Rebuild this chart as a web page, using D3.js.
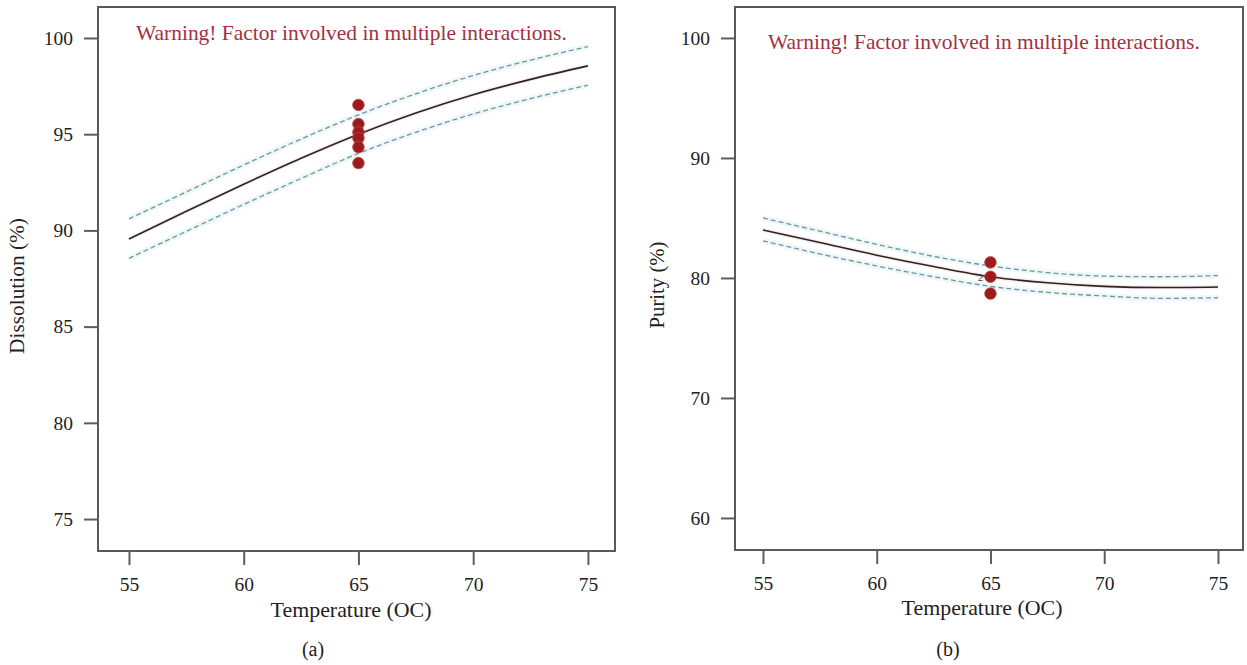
<!DOCTYPE html>
<html>
<head>
<meta charset="utf-8">
<script src="https://cdn.jsdelivr.net/npm/d3@7"></script>
<style>
  html, body { margin: 0; padding: 0; background: #fff; }
  svg { display: block; }
  text { font-family: "Liberation Serif", "DejaVu Serif", serif; }
</style>
</head>
<body>
<svg id="chart" width="1247" height="665"></svg>
<script>
// Temperature grid shared by both one-factor plots
const temperature = [55, 57.5, 60, 62.5, 65, 67.5, 70, 72.5, 75];
const xTicks = [55, 60, 65, 70, 75];

// (a) Dissolution: prediction with 95% confidence band, and design points at 65
const dissolutionFit   = [89.55, 91.0, 92.4, 93.75, 95.0, 96.1, 97.05, 97.85, 98.55];
const dissolutionUpper = [90.6, 92.0, 93.4, 94.75, 96.0, 97.1, 98.05, 98.85, 99.55];
const dissolutionLower = [88.55, 89.95, 91.35, 92.7, 94.0, 95.1, 96.05, 96.85, 97.55];
const dissolutionRuns  = [96.52, 95.53, 95.1, 94.8, 94.33, 93.5];
const dissolutionTicks = [75, 80, 85, 90, 95, 100];

// (b) Purity: prediction with 95% confidence band, and design points at 65
const purityFit   = [84.0, 82.95, 81.9, 80.95, 80.1, 79.6, 79.3, 79.2, 79.25];
const purityUpper = [85.0, 83.9, 82.8, 81.8, 81.0, 80.45, 80.15, 80.1, 80.2];
const purityLower = [83.1, 82.0, 81.0, 80.1, 79.3, 78.8, 78.5, 78.3, 78.35];
const purityRuns  = [81.3, 80.1, 78.7];
const purityTicks = [60, 70, 80, 90, 100];

const centerTemp = 65;
const warning = "Warning! Factor involved in multiple interactions.";

const svg = d3.select("#chart");

// Scale a text element's font size so it spans a given width
function fitWidth(sel, width) {
  const node = sel.node();
  const fs = parseFloat(sel.style("font-size"));
  const w = node.getComputedTextLength();
  if (w > 0) sel.style("font-size", (fs * width / w).toFixed(2) + "px");
  return sel;
}

function drawPanel(cfg) {
  const g = svg.append("g");
  const { left, right, top, bottom } = cfg.frame;

  const x = d3.scaleLinear().domain(cfg.xDomain).range([left, right]);
  const y = d3.scaleLinear().domain(cfg.yDomain).range([bottom, top]);

  // Plot frame
  g.append("rect")
    .attr("x", left).attr("y", top)
    .attr("width", right - left).attr("height", bottom - top)
    .attr("fill", "#fff").attr("stroke", "#5a5a5a").attr("stroke-width", 2);

  // Axes
  const yAxis = g.append("g")
    .attr("transform", `translate(${left},0)`)
    .call(d3.axisLeft(y).tickValues(cfg.yTicks).tickFormat(d3.format("d"))
      .tickSize(14).tickPadding(11));
  const xAxis = g.append("g")
    .attr("transform", `translate(0,${bottom})`)
    .call(d3.axisBottom(x).tickValues(xTicks).tickFormat(d3.format("d"))
      .tickSize(14).tickPadding(12));
  [yAxis, xAxis].forEach(a => {
    a.select(".domain").remove();
    a.selectAll(".tick line").attr("stroke", "#5e5e5e").attr("stroke-width", 2);
    a.selectAll(".tick text")
      .style("font-size", "19.5px").style("fill", "#222");
  });

  const line = d3.line()
    .x((d, i) => x(temperature[i]))
    .y(d => y(d))
    .curve(d3.curveMonotoneX);

  // Confidence band: faint halo under each dashed bound
  [cfg.upper, cfg.lower].forEach(series => {
    g.append("path").datum(series).attr("d", line)
      .attr("fill", "none").attr("stroke", "#e4f3f4")
      .attr("stroke-width", 6).attr("opacity", 0.6);
  });
  [cfg.upper, cfg.lower].forEach(series => {
    g.append("path").datum(series).attr("d", line)
      .attr("fill", "none").attr("stroke", "#6c979c")
      .attr("stroke-width", 1.3).attr("stroke-dasharray", "5,3");
  });

  // Predicted response
  g.append("path").datum(cfg.fit).attr("d", line)
    .attr("fill", "none").attr("stroke", "#ecdcde").attr("stroke-width", 4).attr("opacity", 0.5);
  g.append("path").datum(cfg.fit).attr("d", line)
    .attr("fill", "none").attr("stroke", "#2e2224").attr("stroke-width", 1.6);

  if (cfg.overlapLabel) {
    g.append("text")
      .attr("x", x(centerTemp) - 10).attr("y", y(cfg.fit[4]) + 4)
      .attr("text-anchor", "middle")
      .style("font-size", "11px").style("fill", "#444")
      .text(cfg.overlapLabel);
  }

  // Design points at the centre temperature
  g.selectAll("circle.run").data(cfg.runs).enter().append("circle")
    .attr("class", "run")
    .attr("cx", x(centerTemp)).attr("cy", d => y(d))
    .attr("r", 5.8)
    .attr("fill", "#9c1b1c").attr("stroke", "#b9474a").attr("stroke-width", 0.8);

  // Warning note
  const warn = g.append("text")
    .attr("x", cfg.warnX).attr("y", cfg.warnY)
    .style("font-size", "18px").style("fill", "#a3303f")
    .text(warning);
  fitWidth(warn, cfg.warnWidth);

  // Axis titles
  const xt = g.append("text")
    .attr("x", cfg.xTitleX).attr("y", cfg.xTitleY)
    .attr("text-anchor", "middle")
    .style("font-size", "18px").style("fill", "#222")
    .text("Temperature (OC)");
  fitWidth(xt, 161);

  const yt = g.append("text")
    .attr("transform", `translate(${cfg.yTitleX},${cfg.yTitleY}) rotate(-90)`)
    .attr("text-anchor", "middle")
    .style("font-size", "18px").style("fill", "#222")
    .text(cfg.yTitle);
  fitWidth(yt, cfg.yTitleWidth);

  // Panel letter
  g.append("text")
    .attr("x", cfg.tagX).attr("y", 656)
    .attr("text-anchor", "middle")
    .style("font-size", "20px").style("fill", "#222")
    .text(cfg.tag);
}

drawPanel({
  frame: { left: 98, right: 615, top: 7, bottom: 551 },
  xDomain: [53.65, 76.18],
  yDomain: [73.34, 101.61],
  yTicks: dissolutionTicks,
  fit: dissolutionFit, upper: dissolutionUpper, lower: dissolutionLower,
  runs: dissolutionRuns,
  warnX: 136, warnY: 40, warnWidth: 431,
  xTitleX: 351, xTitleY: 617,
  yTitle: "Dissolution (%)", yTitleX: 24, yTitleY: 286, yTitleWidth: 136,
  tag: "(a)", tagX: 313
});

drawPanel({
  frame: { left: 735, right: 1243, top: 7, bottom: 550 },
  xDomain: [53.77, 76.1],
  yDomain: [57.33, 102.58],
  yTicks: purityTicks,
  fit: purityFit, upper: purityUpper, lower: purityLower,
  runs: purityRuns,
  overlapLabel: "2",
  warnX: 768, warnY: 49, warnWidth: 432,
  xTitleX: 982, xTitleY: 615,
  yTitle: "Purity (%)", yTitleX: 664, yTitleY: 285, yTitleWidth: 87,
  tag: "(b)", tagX: 948
});
</script>
</body>
</html>
